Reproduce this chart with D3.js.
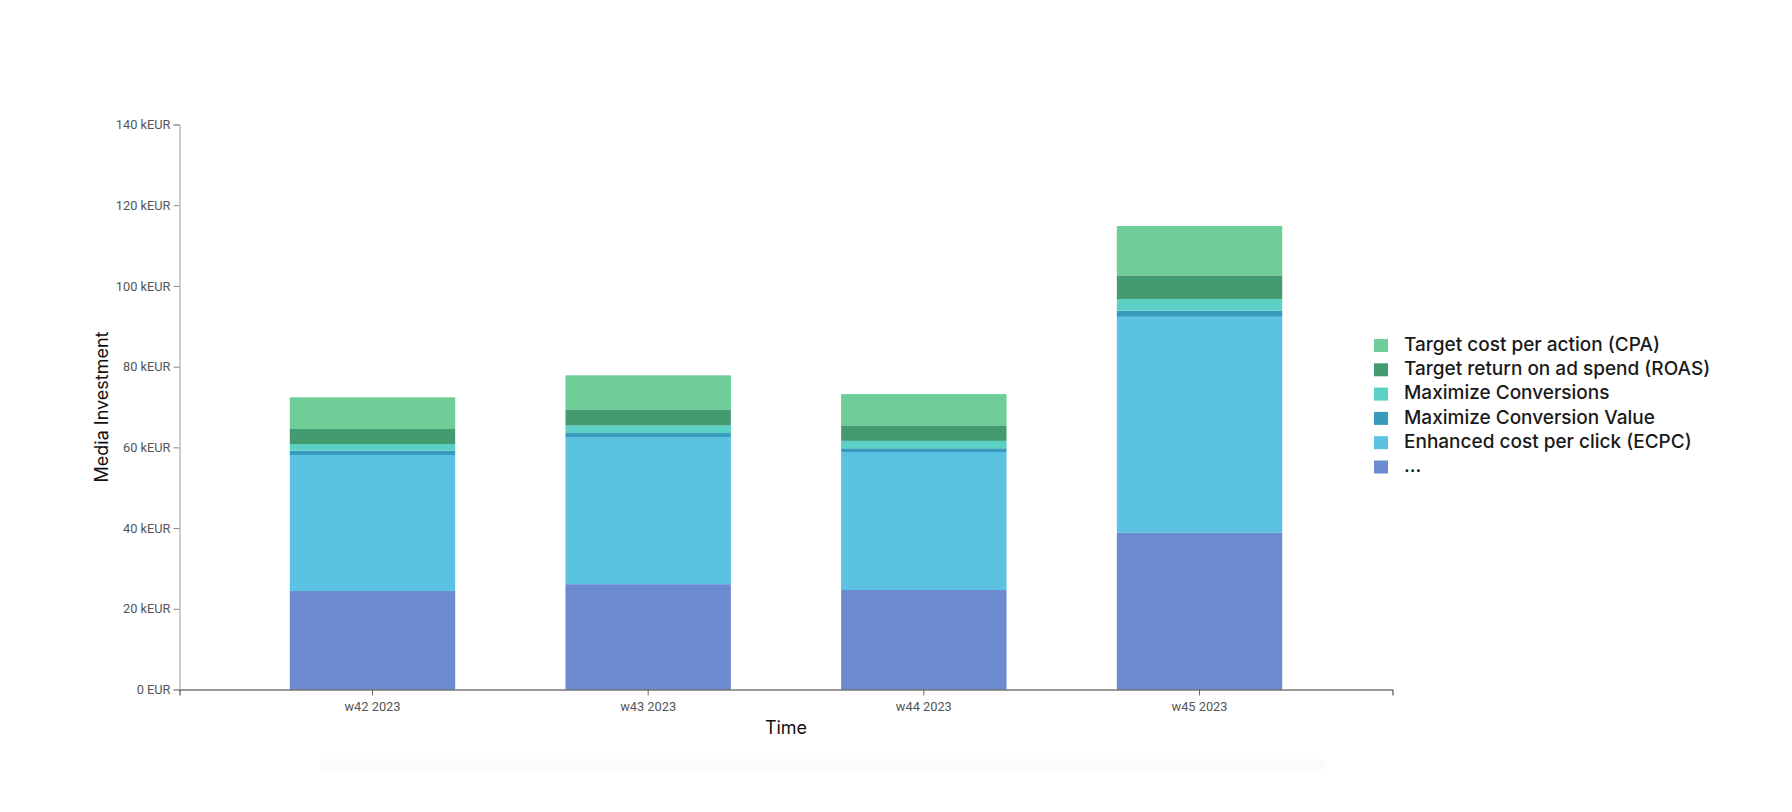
<!DOCTYPE html>
<html>
<head>
<meta charset="utf-8">
<script src="https://cdn.jsdelivr.net/npm/d3@7"></script>
<style>
  html, body { margin: 0; padding: 0; background: #fff; }
  svg { display: block; }
</style>
</head>
<body>
<svg id="chart" width="1792" height="812"></svg>
<script>
// ---- data ----
const weeks = ["w42 2023", "w43 2023", "w44 2023", "w45 2023"];
const seriesNames = [
  "...",
  "Enhanced cost per click (ECPC)",
  "Maximize Conversion Value",
  "Maximize Conversions",
  "Target return on ad spend (ROAS)",
  "Target cost per action (CPA)"
];
const other = [24.4, 26.1, 24.65, 38.85];
const ecpc  = [33.7, 36.45, 34.2, 53.5];
const mcv   = [1.07, 1.0, 0.92, 1.5];
const maxConv = [1.66, 1.9, 1.83, 2.9];
const roas  = [3.72, 3.95, 3.7, 5.85];
const cpa   = [7.85, 8.45, 7.9, 12.25];
const seriesColors = ["#6b8ad0", "#5cc2e2", "#389bbe", "#5bd0c4", "#459b70", "#6fcd97"];
const yTicks = [0, 20, 40, 60, 80, 100, 120, 140];

(function () {
const seriesValues = [other, ecpc, mcv, maxConv, roas, cpa];
const rows = weeks.map((w, i) => {
  const r = { week: w };
  seriesNames.forEach((s, j) => r[s] = seriesValues[j][i]);
  return r;
});

const svg = d3.select("#chart");
const mLeft = 179.5, mRight = 1392.5, mTop = 124.5, mBottom = 689.5;

const x = d3.scaleBand().domain(weeks).range([mLeft, mRight]).paddingInner(0.4).paddingOuter(0.4);
const y = d3.scaleLinear().domain([0, 140]).range([mBottom, mTop]);
const color = d3.scaleOrdinal().domain(seriesNames).range(seriesColors);

const stacked = d3.stack().keys(seriesNames)(rows);

// faint band below chart
svg.append("rect")
  .attr("x", 320).attr("y", 759).attr("width", 1006).attr("height", 12)
  .attr("rx", 6).attr("fill", "#fbfbfb");

// bars
svg.append("g").selectAll("g")
  .data(stacked).join("g")
  .attr("fill", d => color(d.key))
  .selectAll("rect")
  .data(d => d).join("rect")
  .attr("x", d => x(d.data.week))
  .attr("width", x.bandwidth())
  .attr("y", d => y(d[1]))
  .attr("height", d => y(d[0]) - y(d[1]));

// y axis
const fmt = v => v === 0 ? "0 EUR" : v + " kEUR";
const yAxis = svg.append("g")
  .attr("transform", `translate(${mLeft},0)`)
  .call(d3.axisLeft(y).tickValues(yTicks).tickFormat(fmt).tickSizeOuter(6));
yAxis.selectAll("text").attr("font-family", "Roboto").attr("font-size", 12.8).attr("fill", "#555");
yAxis.selectAll("line").attr("stroke", "#888");
yAxis.select(".domain").attr("stroke", "#999");

// x axis
const xAxis = svg.append("g")
  .attr("transform", `translate(0,${mBottom})`)
  .call(d3.axisBottom(x).tickSizeOuter(6));
xAxis.selectAll("text").attr("font-family", "Roboto").attr("font-size", 12.8).attr("fill", "#555").attr("dy", "0.95em");
xAxis.selectAll("line").attr("stroke", "#666");
xAxis.select(".domain").attr("stroke", "#333");

// axis titles
svg.append("text")
  .attr("transform", `translate(103,${(mTop + mBottom) / 2}) rotate(-90)`)
  .attr("text-anchor", "middle").attr("dominant-baseline", "middle")
  .attr("font-family", "Inter").attr("font-size", 18).attr("fill", "#111")
  .text("Media Investment");
svg.append("text")
  .attr("x", (mLeft + mRight) / 2).attr("y", 734)
  .attr("text-anchor", "middle")
  .attr("font-family", "Inter").attr("font-size", 18).attr("fill", "#111")
  .text("Time");

// legend (top entry = top of stack)
const legendOrder = seriesNames.slice().reverse();
const legend = svg.append("g").attr("transform", "translate(1374,339)");
const item = legend.selectAll("g").data(legendOrder).join("g")
  .attr("transform", (d, i) => `translate(0,${i * 24.3})`);
item.append("rect").attr("width", 14).attr("height", 13).attr("fill", d => color(d));
item.append("text")
  .attr("x", 30).attr("y", 6.5).attr("dominant-baseline", "middle")
  .attr("font-family", "Inter").attr("font-size", 19).attr("font-weight", 500).attr("fill", "#1a1a1a")
  .text(d => d);
})();
</script>
</body>
</html>
